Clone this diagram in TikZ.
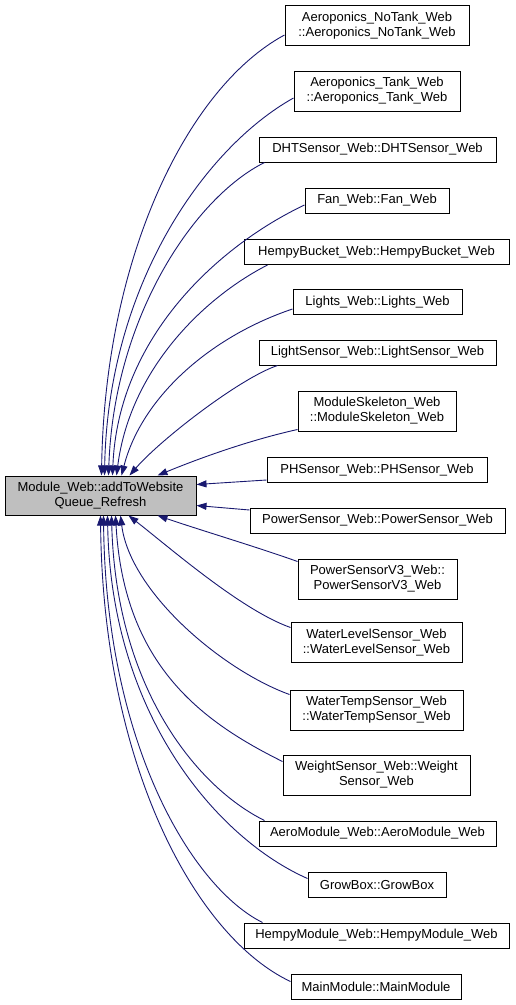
\documentclass[tikz,border=0pt]{standalone}
\usepackage{fontspec}
\setmainfont{Liberation Sans}
\usetikzlibrary{arrows.meta}
\definecolor{edgeblue}{HTML}{191970}
\definecolor{maingray}{HTML}{BFBFBF}
\begin{document}
\begin{tikzpicture}[x=1pt,y=-1pt,
  box/.style={draw=black, line width=1pt, fill=white, inner sep=0pt, align=center,
    font=\fontsize{13}{15}\selectfont},
  onebox/.style={box, minimum height=25pt},
  twobox/.style={box, minimum height=40pt},
  mainbox/.style={box, fill=maingray, minimum width=191pt, minimum height=39pt},
  edge/.style={draw=edgeblue, line width=0.9pt, -{Triangle[length=10pt,width=7pt]}}]
\useasboundingbox (0,0) rectangle (516,1005);
\node[mainbox] (main) at (100.5,495.5) {Module\_Web::addToWebsite\\Queue\_Refresh};
\node[twobox, minimum width=184pt] (n1) at (377,25.5) {Aeroponics\_NoTank\_Web\\::Aeroponics\_NoTank\_Web};
\node[twobox, minimum width=166pt] (n2) at (377,91) {Aeroponics\_Tank\_Web\\::Aeroponics\_Tank\_Web};
\node[onebox, minimum width=237pt] (n3) at (377.5,149.5) {DHTSensor\_Web::DHTSensor\_Web};
\node[onebox, minimum width=144pt] (n4) at (377,200.5) {Fan\_Web::Fan\_Web};
\node[onebox, minimum width=265pt] (n5) at (376.5,252) {HempyBucket\_Web::HempyBucket\_Web};
\node[onebox, minimum width=169pt] (n6) at (377.5,302) {Lights\_Web::Lights\_Web};
\node[onebox, minimum width=237pt] (n7) at (377.5,352.5) {LightSensor\_Web::LightSensor\_Web};
\node[twobox, minimum width=158pt] (n8) at (377,411) {ModuleSkeleton\_Web\\::ModuleSkeleton\_Web};
\node[onebox, minimum width=220pt] (n9) at (377,470) {PHSensor\_Web::PHSensor\_Web};
\node[onebox, minimum width=255pt] (n10) at (377.5,520.5) {PowerSensor\_Web::PowerSensor\_Web};
\node[twobox, minimum width=159pt] (n11) at (377.5,579) {PowerSensorV3\_Web::\\PowerSensorV3\_Web};
\node[twobox, minimum width=171pt] (n12) at (376.5,642.5) {WaterLevelSensor\_Web\\::WaterLevelSensor\_Web};
\node[twobox, minimum width=173pt] (n13) at (376.5,710) {WaterTempSensor\_Web\\::WaterTempSensor\_Web};
\node[twobox, minimum width=187pt] (n14) at (376.5,775) {WeightSensor\_Web::Weight\\Sensor\_Web};
\node[onebox, minimum width=237pt] (n15) at (377.5,833.5) {AeroModule\_Web::AeroModule\_Web};
\node[onebox, minimum width=138pt] (n16) at (377,885) {GrowBox::GrowBox};
\node[onebox, minimum width=265pt] (n17) at (376.5,935.5) {HempyModule\_Web::HempyModule\_Web};
\node[onebox, minimum width=170pt] (n18) at (376,986.5) {MainModule::MainModule};
% edges to top of main
\draw[edge] ([shift={(0,9.5)}]n1.west) .. controls (188,87) and (105,256) .. ([shift={(97,0)}]main.north west);
\draw[edge] ([shift={(0,7)}]n2.west) .. controls (204,148) and (108,286) .. ([shift={(100,0)}]main.north west);
\draw[edge] ([shift={(6,0)}]n3.south west) .. controls (195,197) and (114,316) .. ([shift={(104,0)}]main.north west);
\draw[edge] ([shift={(0,4.5)}]n4.west) .. controls (220,245) and (118,336) .. ([shift={(108,0)}]main.north west);
\draw[edge] ([shift={(24,0)}]n5.south west) .. controls (203,298) and (130,370) .. ([shift={(112,0)}]main.north west);
\draw[edge] ([shift={(0,7)}]n6.west) .. controls (212,336) and (142,396) .. ([shift={(117,0)}]main.north west);
\draw[edge] ([shift={(19,0)}]n7.south west) .. controls (240,378) and (160,440) .. ([shift={(125,0)}]main.north west);
\draw[edge] ([shift={(0,-2)}]n8.south west) .. controls (250,440) and (200,458) .. ([shift={(153,0)}]main.north west);
% edges to right side of main
\draw[edge] ([shift={(0,10)}]n9.west) -- ([shift={(0,9)}]main.north east);
\draw[edge] ([shift={(0,-10.5)}]n10.west) -- ([shift={(0,30)}]main.north east);
% edges to bottom of main
\draw[edge] ([shift={(0,3)}]n11.north west) .. controls (260,548) and (200,530) .. ([shift={(153,0)}]main.south west);
\draw[edge] ([shift={(0,5.5)}]n12.north west) .. controls (241,610) and (169,547) .. ([shift={(124,0)}]main.south west);
\draw[edge] ([shift={(0,5)}]n13.north west) .. controls (222,670) and (130,592) .. ([shift={(116,0)}]main.south west);
\draw[edge] ([shift={(0,7)}]n14.north west) .. controls (203,722) and (124,666) .. ([shift={(111,0)}]main.south west);
\draw[edge] ([shift={(6,0)}]n15.north west) .. controls (195,786) and (116,686) .. ([shift={(107,0)}]main.south west);
\draw[edge] ([shift={(0,6.5)}]n16.north west) .. controls (218,839) and (111,716) .. ([shift={(103,0)}]main.south west);
\draw[edge] ([shift={(19,0)}]n17.north west) .. controls (193,888) and (106,746) .. ([shift={(99,0)}]main.south west);
\draw[edge] ([shift={(0,8)}]n18.north west) .. controls (196,937) and (103,766) .. ([shift={(96,0)}]main.south west);
\end{tikzpicture}
\end{document}
